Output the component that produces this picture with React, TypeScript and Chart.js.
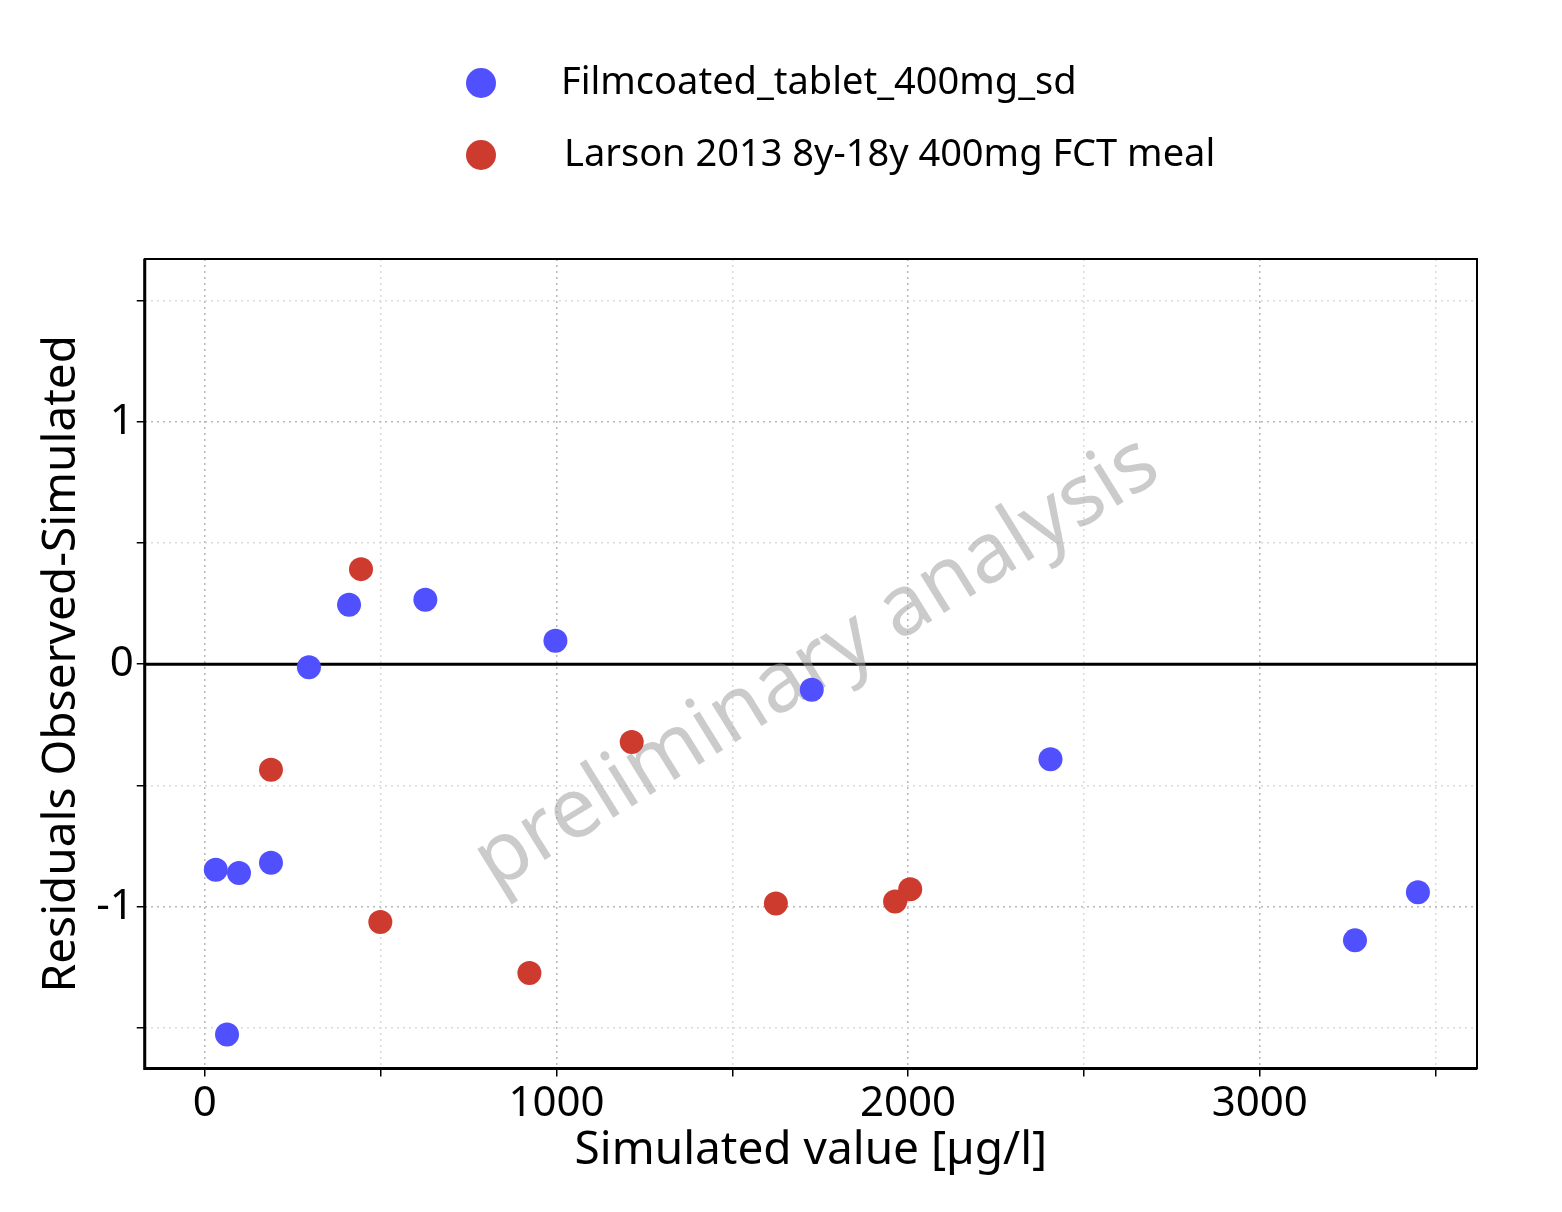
import React, { useEffect, useRef } from "react";
import { Chart, registerables } from "chart.js";
Chart.register(...registerables);

const blueX = [31, 97, 63, 188, 296, 410, 627, 997, 1726, 2405, 3271, 3450];
const blueY = [-0.848, -0.861, -1.527, -0.819, -0.013, 0.245, 0.266, 0.097, -0.105, -0.392, -1.139, -0.941];
const redX = [188, 444, 499, 923, 1214, 1624, 1963, 2006];
const redY = [-0.435, 0.392, -1.063, -1.274, -0.321, -0.987, -0.979, -0.928];
const seriesNames = ["Filmcoated_tablet_400mg_sd", "Larson 2013 8y-18y 400mg FCT meal"];
const colors = ["#5050FF", "#CD3B2F"];

const F = "'Noto Sans', 'DejaVu Sans', sans-serif";

export default function App() {
  const ref = useRef<HTMLCanvasElement>(null);
  useEffect(() => {
    const extras = {
      id: "extras",
      beforeDatasetsDraw(c: any) {
        const { ctx, chartArea: a, scales } = c;
        ctx.save();
        const y0 = scales.y.getPixelForValue(0);
        ctx.strokeStyle = "#000";
        ctx.lineWidth = 3;
        ctx.beginPath(); ctx.moveTo(a.left, y0); ctx.lineTo(a.right, y0); ctx.stroke();
        ctx.translate((a.left + a.right) / 2 + 6, (a.top + a.bottom) / 2);
        ctx.rotate(-Math.atan2(430, 695));
        ctx.fillStyle = "rgba(160,160,160,0.55)";
        ctx.font = `84px ${F}`;
        ctx.textAlign = "center"; ctx.textBaseline = "middle";
        ctx.fillText("preliminary analysis", 0, 0);
        ctx.restore();
      },
      afterDraw(c: any) {
        const { ctx, chartArea: a } = c;
        ctx.save();
        ctx.strokeStyle = "#000";
        ctx.lineWidth = 2;
        ctx.strokeRect(a.left, a.top, a.right - a.left, a.bottom - a.top);
        ctx.lineWidth = 3;
        ctx.beginPath(); ctx.moveTo(a.left, a.top); ctx.lineTo(a.left, a.bottom); ctx.lineTo(a.right, a.bottom); ctx.stroke();
        ctx.font = `38px ${F}`;
        ctx.textBaseline = "middle";
        const ys = [83, 155];
        seriesNames.forEach((n, i) => {
          ctx.fillStyle = colors[i];
          ctx.beginPath(); ctx.arc(481, ys[i], 15, 0, Math.PI * 2); ctx.fill();
          ctx.fillStyle = "#000";
          ctx.fillText(n, i === 0 ? 561 : 564, ys[i]);
        });
        ctx.restore();
      },
    };
    const grid = { lineWidth: 1.5, drawTicks: true, tickLength: 8, tickColor: "#000" };
    const chart = new Chart(ref.current!, {
      type: "scatter",
      data: {
        datasets: [
          { label: seriesNames[0], data: blueX.map((x, i) => ({ x, y: blueY[i] })), backgroundColor: colors[0], borderWidth: 0, pointRadius: 12 },
          { label: seriesNames[1], data: redX.map((x, i) => ({ x, y: redY[i] })), backgroundColor: colors[1], borderWidth: 0, pointRadius: 12 },
        ],
      },
      options: {
        animation: false, responsive: false,
        layout: { padding: { top: 259, right: 85, left: 30, bottom: 30 } },
        plugins: { legend: { display: false }, tooltip: { enabled: false } },
        scales: {
          x: {
            type: "linear", min: -171, max: 3618,
            afterBuildTicks: (ax: any) => { ax.ticks = [0, 500, 1000, 1500, 2000, 2500, 3000, 3500].map((v) => ({ value: v })); },
            ticks: { color: "#000", font: { size: 42, family: F }, autoSkip: false, maxRotation: 0, padding: 2, callback: (v: any) => (v % 1000 === 0 ? String(v) : "") },
            grid: { ...grid, color: (c: any) => (c.tick && c.tick.value % 1000 === 0 ? "#b8b8b8" : "#dadada") } as any,
            border: { display: false, dash: [2, 4] },
            title: { display: true, text: "Simulated value [µg/l]", color: "#000", font: { size: 46, family: F }, padding: { top: -8 } },
          },
          y: {
            type: "linear", min: -1.667, max: 1.671,
            afterBuildTicks: (ax: any) => { ax.ticks = [-1.5, -1, -0.5, 0, 0.5, 1, 1.5].map((v) => ({ value: v })); },
            ticks: { color: "#000", font: { size: 42, family: F }, autoSkip: false, callback: (v: any) => (Number.isInteger(v) ? String(v) : "") },
            grid: { ...grid, color: (c: any) => (c.tick && Number.isInteger(c.tick.value) ? "#b8b8b8" : "#dadada") } as any,
            border: { display: false, dash: [2, 4] },
            title: { display: true, text: "Residuals Observed-Simulated", color: "#000", font: { size: 46, family: F } },
          },
        },
      },
      plugins: [extras],
    });
    return () => chart.destroy();
  }, []);
  return (
    <div style={{ position: "absolute", left: 0, top: 0, width: 1562, height: 1212, background: "#fff" }}>
      <canvas ref={ref} width={1562} height={1212} style={{ width: 1562, height: 1212 }} />
    </div>
  );
}
